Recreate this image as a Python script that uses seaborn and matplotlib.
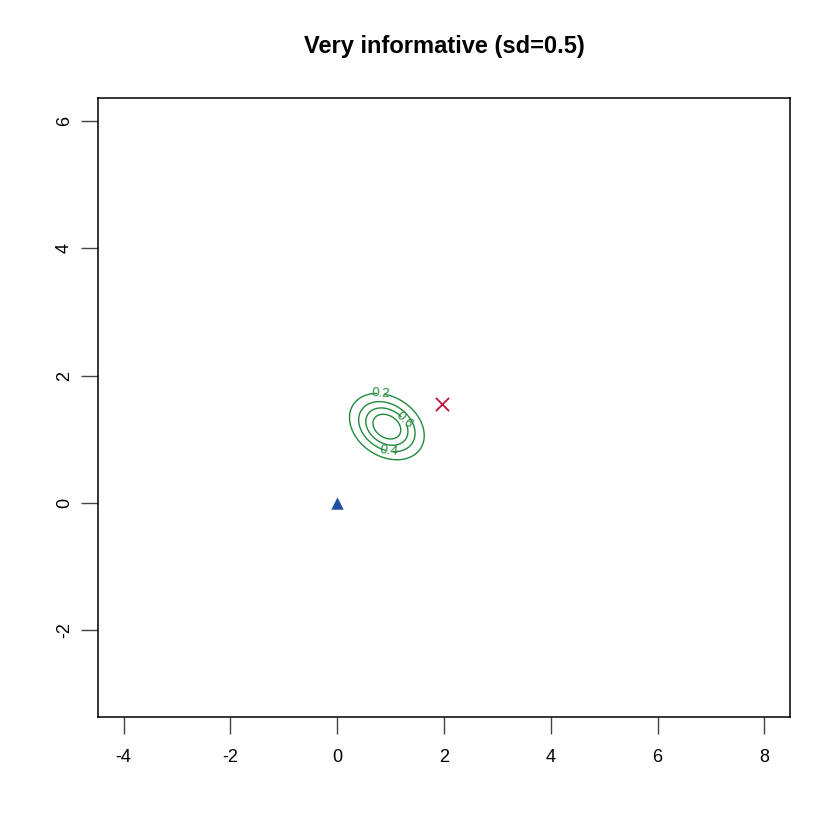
import numpy as np
import matplotlib
matplotlib.use('Agg')
import matplotlib.pyplot as plt
import seaborn as sns
import pandas as pd

# ---- data ----
title = 'Very informative (sd=0.5)'
xlim = (-4.48, 8.48)
ylim = (-3.36, 6.36)
xticks = [-4, -2, 0, 2, 4, 6, 8]
yticks = [-2, 0, 2, 4, 6]

# posterior surface (scaled so the peak is ~1)
post_mean = [0.93, 1.20]
post_sd = [0.39, 0.29]
post_rho = -0.27
post_peak = 1.0
levels = [0.2, 0.4, 0.6, 0.8]
labelled_levels = [0.2, 0.4, 0.6]
label_spots = [(0.81, 1.69), (0.98, 0.86), (1.19, 1.22)]

prior_pt = pd.DataFrame({'x': [0.0], 'y': [0.0]})
truth_pt = pd.DataFrame({'x': [1.96], 'y': [1.56]})

green = '#228B3B'
blue = '#1F4FA0'
red = '#C0143C'

sns.set_style('white')
plt.rcParams['font.family'] = ['Liberation Sans', 'DejaVu Sans']
plt.rcParams['text.color'] = 'black'
plt.rcParams['xtick.labelcolor'] = 'black'
plt.rcParams['ytick.labelcolor'] = 'black'

fig = plt.figure(figsize=(8.4, 8.4), dpi=100)
ax = fig.add_axes([98 / 840, 1 - 717 / 840, 692 / 840, 619 / 840])

# grid for the contour
gx = np.linspace(-1, 3, 400)
gy = np.linspace(-1, 3.5, 400)
GX, GY = np.meshgrid(gx, gy)
zx = (GX - post_mean[0]) / post_sd[0]
zy = (GY - post_mean[1]) / post_sd[1]
d2 = (zx ** 2 - 2 * post_rho * zx * zy + zy ** 2) / (1 - post_rho ** 2)
Z = post_peak * np.exp(-0.5 * d2)

cs = ax.contour(GX, GY, Z, levels=levels, colors=green, linewidths=1.0)
ax.clabel(cs, levels=labelled_levels, inline=True, fontsize=9.5,
          fmt='%.1f', manual=label_spots, inline_spacing=2)

sns.scatterplot(data=prior_pt, x='x', y='y', marker='^', s=80, color=blue,
                edgecolor=blue, linewidth=0, ax=ax, zorder=3)
sns.scatterplot(data=truth_pt, x='x', y='y', marker='x', s=90, color=red,
                linewidth=1.3, ax=ax, zorder=3)

ax.set_xlim(*xlim)
ax.set_ylim(*ylim)
ax.set_xticks(xticks)
ax.set_yticks(yticks)
ax.set_xticklabels([str(t) for t in xticks])
ax.set_yticklabels([str(t) for t in yticks], rotation=90, va='center')
ax.set_xlabel('')
ax.set_ylabel('')
ax.tick_params(axis='both', direction='out', length=12, width=1.0,
               color='#444444', labelsize=13, pad=11,
               bottom=True, left=True)
ax.tick_params(axis='y', pad=6)
for sp in ax.spines.values():
    sp.set_visible(True)
    sp.set_color('black')
    sp.set_linewidth(1.1)

fig.text((98 + 790) / 2 / 840, 1 - 47 / 840, title, ha='center', va='center',
         fontsize=17, fontweight='bold')

fig.savefig('out.png', dpi=100)
